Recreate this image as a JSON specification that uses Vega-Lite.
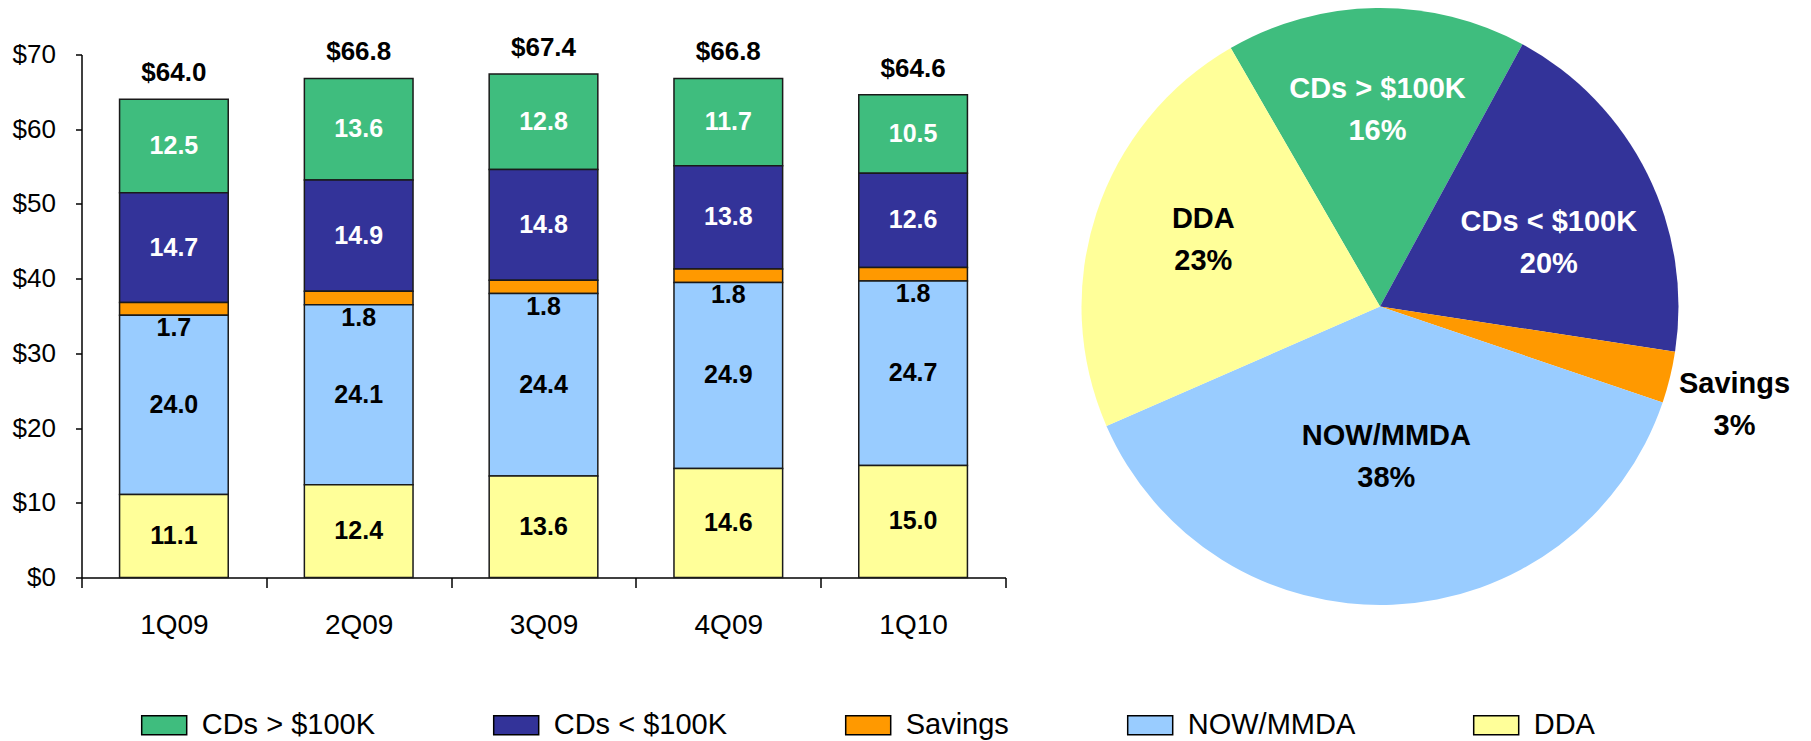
{
  "$schema": "https://vega.github.io/schema/vega-lite/v6.json",
  "background": "white",
  "padding": {"left": 11.5, "top": 7.5, "right": 5, "bottom": 0},
  "datasets": {
    "bars": [
      {"q": "1Q09", "cat": "CDs > $100K", "value": 12.5, "rank": 5},
      {"q": "1Q09", "cat": "CDs < $100K", "value": 14.7, "rank": 4},
      {"q": "1Q09", "cat": "Savings", "value": 1.7, "rank": 3},
      {"q": "1Q09", "cat": "NOW/MMDA", "value": 24.0, "rank": 2},
      {"q": "1Q09", "cat": "DDA", "value": 11.1, "rank": 1},
      {"q": "2Q09", "cat": "CDs > $100K", "value": 13.6, "rank": 5},
      {"q": "2Q09", "cat": "CDs < $100K", "value": 14.9, "rank": 4},
      {"q": "2Q09", "cat": "Savings", "value": 1.8, "rank": 3},
      {"q": "2Q09", "cat": "NOW/MMDA", "value": 24.1, "rank": 2},
      {"q": "2Q09", "cat": "DDA", "value": 12.4, "rank": 1},
      {"q": "3Q09", "cat": "CDs > $100K", "value": 12.8, "rank": 5},
      {"q": "3Q09", "cat": "CDs < $100K", "value": 14.8, "rank": 4},
      {"q": "3Q09", "cat": "Savings", "value": 1.8, "rank": 3},
      {"q": "3Q09", "cat": "NOW/MMDA", "value": 24.4, "rank": 2},
      {"q": "3Q09", "cat": "DDA", "value": 13.6, "rank": 1},
      {"q": "4Q09", "cat": "CDs > $100K", "value": 11.7, "rank": 5},
      {"q": "4Q09", "cat": "CDs < $100K", "value": 13.8, "rank": 4},
      {"q": "4Q09", "cat": "Savings", "value": 1.8, "rank": 3},
      {"q": "4Q09", "cat": "NOW/MMDA", "value": 24.9, "rank": 2},
      {"q": "4Q09", "cat": "DDA", "value": 14.6, "rank": 1},
      {"q": "1Q10", "cat": "CDs > $100K", "value": 10.5, "rank": 5},
      {"q": "1Q10", "cat": "CDs < $100K", "value": 12.6, "rank": 4},
      {"q": "1Q10", "cat": "Savings", "value": 1.8, "rank": 3},
      {"q": "1Q10", "cat": "NOW/MMDA", "value": 24.7, "rank": 2},
      {"q": "1Q10", "cat": "DDA", "value": 15.0, "rank": 1}
    ],
    "pie": [
      {"cat": "CDs > $100K", "value": 10.5, "lbl": "CDs > $100K\n16%"},
      {"cat": "CDs < $100K", "value": 12.6, "lbl": "CDs < $100K\n20%"},
      {"cat": "Savings", "value": 1.8, "lbl": "Savings\n3%"},
      {"cat": "NOW/MMDA", "value": 24.7, "lbl": "NOW/MMDA\n38%"},
      {"cat": "DDA", "value": 15.0, "lbl": "DDA\n23%"}
    ]
  },
  "bounds": "flush",
  "spacing": 20,
  "resolve": {"scale": {"color": "shared"}},
  "hconcat": [
    {
      "width": 924,
      "height": 523,
      "data": {"name": "bars"},
      "encoding": {
        "x": {
          "field": "q",
          "type": "ordinal",
          "sort": ["1Q09", "2Q09", "3Q09", "4Q09", "1Q10"],
          "scale": {"paddingInner": 0, "paddingOuter": 0},
          "axis": {"title": null, "labelAngle": 0, "labelFontSize": 28, "labelPadding": 24, "tickSize": 10, "tickBand": "extent"}
        }
      },
      "layer": [
        {
          "mark": {"type": "bar", "stroke": "#1a1a1a", "strokeWidth": 1.5, "width": {"band": 0.588}},
          "encoding": {
            "y": {
              "field": "value",
              "type": "quantitative",
              "stack": "zero",
              "scale": {"domain": [0, 70], "nice": false},
              "axis": {"title": null, "values": [0, 10, 20, 30, 40, 50, 60, 70], "format": "$.0f", "labelFontSize": 26, "tickSize": 6, "labelPadding": 20}
            },
            "color": {
              "field": "cat",
              "type": "nominal",
              "scale": {
                "domain": ["CDs > $100K", "CDs < $100K", "Savings", "NOW/MMDA", "DDA"],
                "range": ["#3fbd7e", "#333399", "#ff9900", "#99ccff", "#ffff99"]
              },
              "legend": {
                "orient": "none", "legendX": 59.2, "legendY": 647, "direction": "horizontal", "title": null,
                "symbolType": "M-1,-0.422H1V0.422H-1Z", "symbolSize": 2025, "symbolStrokeColor": "black", "symbolStrokeWidth": 1.5,
                "labelFontSize": 29, "labelOffset": 14, "columnPadding": 115, "labelColor": "black", "labelLimit": 400
              }
            },
            "order": {"field": "rank", "type": "quantitative"}
          }
        },
        {
          "mark": {"type": "text", "fontSize": 25, "fontWeight": "bold", "baseline": "middle"},
          "encoding": {
            "y": {
              "field": "value", "type": "quantitative", "stack": "zero", "bandPosition": 0.5,
              "axis": {"title": null, "values": [0, 10, 20, 30, 40, 50, 60, 70], "format": "$.0f", "labelFontSize": 26, "tickSize": 6, "labelPadding": 20}
            },
            "detail": {"field": "cat"},
            "order": {"field": "rank", "type": "quantitative"},
            "text": {"condition": {"test": "datum.cat != 'Savings'", "field": "value", "type": "quantitative", "format": ".1f"}, "value": ""},
            "color": {"condition": {"test": "datum.cat == 'CDs > $100K' || datum.cat == 'CDs < $100K'", "value": "white"}, "value": "black"}
          }
        },
        {
          "mark": {"type": "text", "fontSize": 25, "fontWeight": "bold", "baseline": "top", "dy": 1, "color": "black"},
          "encoding": {
            "y": {
              "field": "value", "type": "quantitative", "stack": "zero", "bandPosition": 0,
              "axis": {"title": null, "values": [0, 10, 20, 30, 40, 50, 60, 70], "format": "$.0f", "labelFontSize": 26, "tickSize": 6, "labelPadding": 20}
            },
            "detail": {"field": "cat"},
            "order": {"field": "rank", "type": "quantitative"},
            "text": {"condition": {"test": "datum.cat == 'Savings'", "field": "value", "type": "quantitative", "format": ".1f"}, "value": ""}
          }
        },
        {
          "mark": {"type": "text", "fontSize": 26, "fontWeight": "bold", "baseline": "alphabetic", "dy": -18, "color": "black"},
          "encoding": {
            "y": {
              "aggregate": "sum", "field": "value", "type": "quantitative",
              "axis": {"title": null, "values": [0, 10, 20, 30, 40, 50, 60, 70], "format": "$.0f", "labelFontSize": 26, "tickSize": 6, "labelPadding": 20}
            },
            "text": {"aggregate": "sum", "field": "value", "type": "quantitative", "format": "$.1f"}
          }
        }
      ]
    },
    {
      "width": 709,
      "height": 504,
      "data": {"name": "pie"},
      "encoding": {
        "theta": {"field": "value", "type": "quantitative", "stack": true, "scale": {"range": [1.7232, 8.0064]}},
        "order": {"field": "cat", "type": "nominal", "sort": "descending"}
      },
      "layer": [
        {
          "mark": {"type": "arc", "radius": 298.5},
          "encoding": {
            "color": {
              "field": "cat",
              "type": "nominal",
              "scale": {
                "domain": ["CDs > $100K", "CDs < $100K", "Savings", "NOW/MMDA", "DDA"],
                "range": ["#3fbd7e", "#333399", "#ff9900", "#99ccff", "#ffff99"]
              },
              "legend": {
                "orient": "none", "legendX": 59.2, "legendY": 647, "direction": "horizontal", "title": null,
                "symbolType": "M-1,-0.422H1V0.422H-1Z", "symbolSize": 2025, "symbolStrokeColor": "black", "symbolStrokeWidth": 1.5,
                "labelFontSize": 29, "labelOffset": 14, "columnPadding": 115, "labelColor": "black", "labelLimit": 400
              }
            }
          }
        },
        {
          "mark": {
            "type": "text", "fontSize": 29, "fontWeight": "bold", "lineBreak": "\n", "lineHeight": 42, "baseline": "middle",
            "radius": {"expr": "datum.cat == 'Savings' ? 365 : datum.cat == 'NOW/MMDA' ? 151 : datum.cat == 'CDs < $100K' ? 188.5 : datum.cat == 'DDA' ? 186 : 197"},
            "dy": {"expr": "datum.cat == 'Savings' ? -9 : datum.cat == 'CDs < $100K' ? -1 : datum.cat == 'DDA' ? -29 : -21"}
          },
          "encoding": {
            "detail": {"field": "cat"},
            "text": {"field": "lbl", "type": "nominal"},
            "color": {"condition": {"test": "datum.cat == 'CDs > $100K' || datum.cat == 'CDs < $100K'", "value": "white"}, "value": "black"}
          }
        }
      ]
    }
  ],
  "config": {
    "font": "Liberation Sans",
    "view": {"stroke": null},
    "axis": {"domainColor": "black", "tickColor": "black", "labelColor": "black", "domainWidth": 1.5, "tickWidth": 1.5, "grid": false}
  }
}
